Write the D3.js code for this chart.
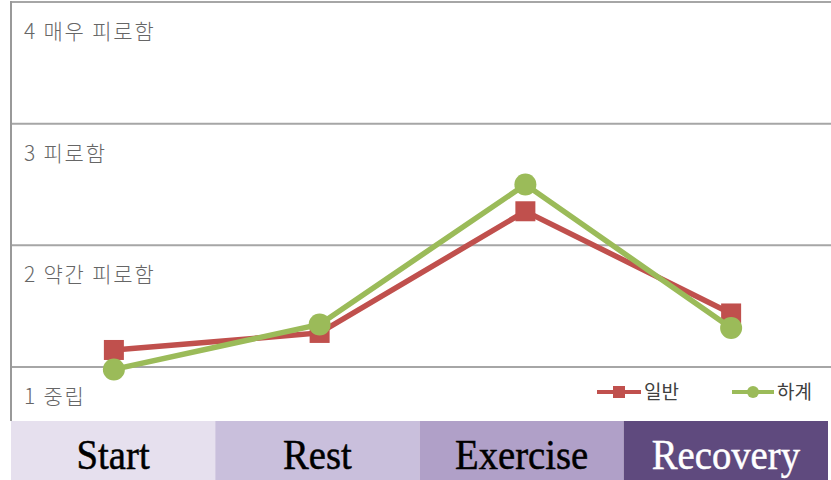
<!DOCTYPE html>
<html>
<head>
<meta charset="utf-8">
<script src="https://cdn.jsdelivr.net/npm/d3@7"></script>
<style>
  html, body { margin: 0; padding: 0; background: #fff; }
  svg { display: block; }
</style>
</head>
<body>
<svg width="831" height="480"></svg>
<script>
(function() {
    'use strict';
    // data
    var phases = ["Start", "Rest", "Exercise", "Recovery"],
        levels = [1, 2, 3, 4],
        levelLabels = ["1 중립", "2 약간 피로함", "3 피로함", "4 매우 피로함"],
        normal = [1.14, 1.28, 2.28, 1.44],      // 일반
        summer = [0.98, 1.35, 2.50, 1.32],      // 하계
        seriesNames = ["일반", "하계"],
        bandColors = ["#e6e0ee", "#c9bfdc", "#b0a0c8", "#5f4a7e"],
        bandText = ["#000", "#000", "#000", "#fff"];

    var svg = d3.select("svg"),
        left = 11, right = 831, top = 2, plotBottom = 421, bottom = 480,
        red = "#c0504d", green = "#9bbb59", gridColor = "#a6a6a6";

    var x = d3.scalePoint().domain(phases).range([left, 834]).padding(0.5),
        band = d3.scaleBand().domain(phases).range([left, 828]),
        y = d3.scaleLinear().domain([1, 4]).range([367, top]);

    // gridlines
    svg.append("g").selectAll("line")
        .data(levels)
        .enter().append("line")
        .attr("x1", left).attr("x2", right)
        .attr("y1", function(d) { return y(d); })
        .attr("y2", function(d) { return y(d); })
        .attr("stroke", gridColor)
        .attr("stroke-width", 2);

    // left border
    svg.append("line")
        .attr("x1", left).attr("x2", left)
        .attr("y1", top - 1).attr("y2", plotBottom)
        .attr("stroke", "#999")
        .attr("stroke-width", 2);

    // level labels
    svg.append("g").selectAll("text")
        .data(levels)
        .enter().append("text")
        .attr("x", 24)
        .attr("y", function(d) { return y(d) + 37; })
        .attr("font-family", "'Noto Sans CJK KR', 'Noto Sans', sans-serif")
        .attr("font-size", 21)
        .attr("font-weight", 300)
        .attr("letter-spacing", 1.8)
        .attr("fill", "#666")
        .text(function(d, i) { return levelLabels[i]; });

    var line = d3.line()
        .x(function(d, i) { return x(phases[i]); })
        .y(function(d) { return y(d); });

    // 일반
    svg.append("path")
        .datum(normal)
        .attr("fill", "none")
        .attr("stroke", red)
        .attr("stroke-width", 5.5)
        .attr("d", line);
    svg.append("g").selectAll("rect")
        .data(normal)
        .enter().append("rect")
        .attr("x", function(d, i) { return x(phases[i]) - 10; })
        .attr("y", function(d) { return y(d) - 10; })
        .attr("width", 20).attr("height", 20)
        .attr("fill", red);

    // 하계
    svg.append("path")
        .datum(summer)
        .attr("fill", "none")
        .attr("stroke", green)
        .attr("stroke-width", 5.5)
        .attr("d", line);
    svg.append("g").selectAll("circle")
        .data(summer)
        .enter().append("circle")
        .attr("cx", function(d, i) { return x(phases[i]); })
        .attr("cy", function(d) { return y(d); })
        .attr("r", 11)
        .attr("fill", green);

    // legend
    var legend = svg.append("g").attr("transform", "translate(0,392)");
    var lg1 = legend.append("g").attr("transform", "translate(597,0)");
    lg1.append("line").attr("x1", 0).attr("x2", 44).attr("stroke", red).attr("stroke-width", 4);
    lg1.append("rect").attr("x", 16).attr("y", -6).attr("width", 12).attr("height", 12).attr("fill", red);
    lg1.append("text").attr("x", 47).attr("y", 7)
        .attr("font-family", "'Noto Sans CJK KR', sans-serif").attr("font-size", 19)
        .attr("fill", "#404040").text(seriesNames[0]);
    var lg2 = legend.append("g").attr("transform", "translate(732,0)");
    lg2.append("line").attr("x1", 0).attr("x2", 42).attr("stroke", green).attr("stroke-width", 4);
    lg2.append("circle").attr("cx", 21).attr("cy", 0).attr("r", 6).attr("fill", green);
    lg2.append("text").attr("x", 45).attr("y", 7)
        .attr("font-family", "'Noto Sans CJK KR', sans-serif").attr("font-size", 19)
        .attr("fill", "#404040").text(seriesNames[1]);

    // phase band
    var bands = svg.append("g").selectAll("g")
        .data(phases)
        .enter().append("g");
    bands.append("rect")
        .attr("x", function(d) { return band(d); })
        .attr("y", plotBottom)
        .attr("width", band.bandwidth())
        .attr("height", bottom - plotBottom)
        .attr("fill", function(d, i) { return bandColors[i]; });
    bands.append("text")
        .attr("transform", function(d) {
            return "translate(" + (band(d) + band.bandwidth() / 2) + ",469) scale(0.9,1)";
        })
        .attr("text-anchor", "middle")
        .attr("font-family", "'Liberation Serif', 'DejaVu Serif', serif")
        .attr("font-size", 43)
        .attr("stroke", function(d, i) { return bandText[i]; })
        .attr("stroke-width", 0.5)
        .attr("fill", function(d, i) { return bandText[i]; })
        .text(function(d) { return d; });
})();
</script>
</body>
</html>
